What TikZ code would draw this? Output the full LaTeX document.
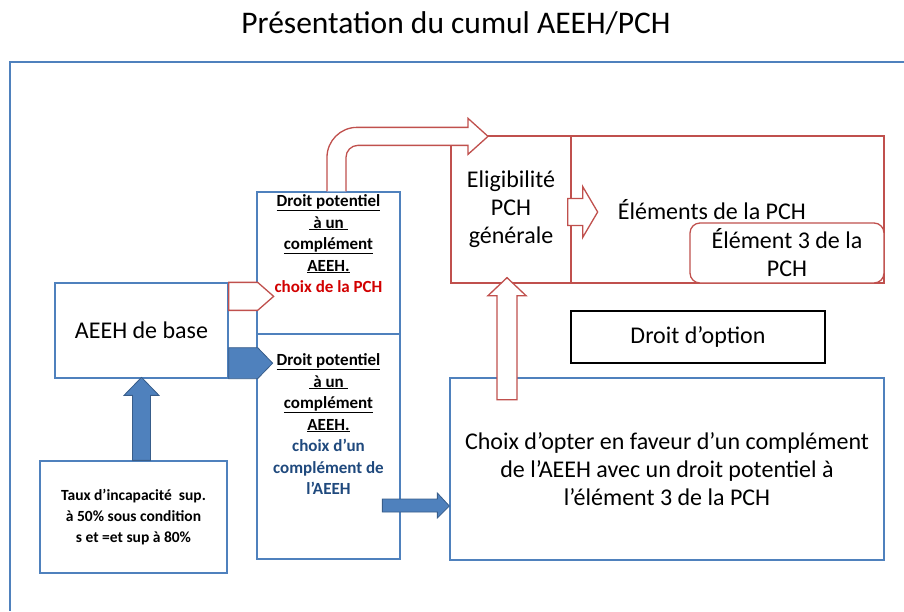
\documentclass[tikz,border=0pt]{standalone}
\usepackage{fontspec}
\setmainfont{Carlito}
\usetikzlibrary{positioning}

\definecolor{boxblue}{RGB}{79,129,189}
\definecolor{darkblue}{RGB}{56,93,138}
\definecolor{pchred}{RGB}{192,80,77}
\definecolor{txtred}{RGB}{210,0,0}
\definecolor{txtnavy}{RGB}{31,73,125}

\tikzset{
 box/.style={draw, line width=1.3pt, fill=white, inner sep=0pt, align=center},
 bigtext/.style={font=\fontsize{24}{28}\selectfont},
 smalltext/.style={font=\fontsize{17}{21.5}\selectfont\bfseries, align=center, inner sep=0pt},
 openarrow/.style={draw=pchred, line width=1.3pt, fill=white, line join=miter},
 fullarrow/.style={draw=darkblue, line width=0.8pt, fill=boxblue},
}

\begin{document}
\begin{tikzpicture}[x=1pt,y=-1pt]
\useasboundingbox (0,0) rectangle (904,611);

\node[font=\fontsize{31.5}{36}\selectfont] (title) at (456,23) {Présentation du cumul AEEH/PCH};
\draw[boxblue, line width=1.4pt] (904,62) -- (10,62) -- (10,611); % frame, open right and below

% left column
\node[box, draw=boxblue, bigtext, minimum width=173pt, minimum height=95pt] (base) at (141.5,330.5) {AEEH de base};
\node[box, draw=boxblue, minimum width=187pt, minimum height=112pt, font=\fontsize{15.5}{21}\selectfont\bfseries] (taux) at (133.5,517)
 {Taux d’incapacité~ sup.\\ à 50\% sous condition\\ s et =et sup à 80\%};

% middle column
\node[box, draw=boxblue, minimum width=143pt, minimum height=142pt] (pchbox) at (328.5,263) {};
\node[box, draw=boxblue, minimum width=143pt, minimum height=225pt] (aeehbox) at (328.5,446.5) {};
\node[smalltext, below=3pt of pchbox.north] (pchtext)
 {\underline{Droit potentiel}\\ \underline{ à un }\\ \underline{complément}\\ \underline{AEEH.}\\ \textcolor{txtred}{choix de la PCH}};
\node[smalltext, below=20pt of aeehbox.north] (aeehtext)
 {\underline{Droit potentiel}\\ \underline{ à un }\\ \underline{complément}\\ \underline{AEEH.}\\
  \textcolor{txtnavy}{choix d’un}\\ \textcolor{txtnavy}{complément de}\\ \textcolor{txtnavy}{l'AEEH}};

% right part
\node[box, draw=pchred, bigtext, minimum width=120pt, minimum height=147pt] (elig) at (511,209.5) {Eligibilité\\PCH\\générale};
\node[box, draw=pchred, minimum width=313pt, minimum height=147pt] (elements) at (727.5,209.5) {};
\node[bigtext, inner sep=0pt, right=46pt of elig.east] (elemtext) {Éléments de la PCH};
\node[box, draw=pchred, bigtext, rounded corners=10pt, minimum width=194pt, minimum height=60pt] (elem3) at (787,253) {Élément 3 de la\\PCH};
\node[box, draw=black, bigtext, line width=1.6pt, minimum width=254pt, minimum height=52pt] (option) at (698,337) {Droit d’option};
\node[box, draw=boxblue, bigtext, minimum width=434pt, minimum height=182pt] (choix) at (667,469)
 {Choix d’opter en faveur d’un complément\\ de l’AEEH avec un droit potentiel à\\ l’élément 3 de la PCH};

% block arrows
\draw[fullarrow] (base.south |- taux.north) ++(-9,0) -- ++(0,-65) -- ++(-8.5,0) -- ++(17.5,-18) -- ++(17.5,18) -- ++(-8.5,0) -- ++(0,65) -- cycle;
\draw[openarrow] (base.north east) -- ++(29,0) -- ++(16,14) -- ++(-16,14) -- ++(-29,0) -- cycle;
\draw[fullarrow] (base.south east) -- ++(0,-31) -- ++(29,0) -- ++(15,15.5) -- ++(-15,15.5) -- cycle;
\draw[openarrow] ([xshift=-1.5pt]pchbox.north) -- ++(0,-34) arc[start angle=180, end angle=270, radius=30]
 -- ++(111,0) -- ++(0,-9) -- ++(20,18) -- ++(-20,18) -- ++(0,-9) -- ++(-110,0)
 arc[start angle=270, end angle=180, radius=12] -- ++(0,34);
\draw[openarrow] (elig.east) ++(-4,-11) -- ++(15,0) -- ++(0,-12) -- ++(15,25.5) -- ++(-15,25.5) -- ++(0,-12) -- ++(-15,0) -- cycle;
\draw[openarrow] (elig.south) ++(-14,116) -- ++(0,-104) -- ++(-9,0) -- ++(19,-18) -- ++(19,18) -- ++(-9,0) -- ++(0,104) -- cycle;
\draw[fullarrow] (choix.west) ++(0,37) -- ++(-12,-13) -- ++(0,6) -- ++(-55,0) -- ++(0,13) -- ++(55,0) -- ++(0,6) -- cycle;

\end{tikzpicture}
\end{document}
